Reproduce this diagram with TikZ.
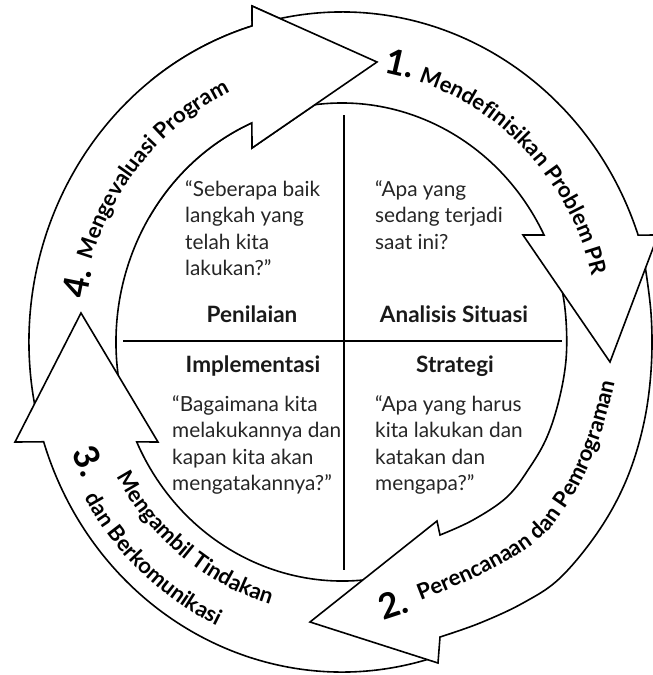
\documentclass[tikz,border=0pt]{standalone}
\usepackage{fontspec}
\setmainfont{Lato}
\usetikzlibrary{calc,decorations.text}
\newcommand{\bodyfont}{\fontsize{20.8}{26.5}\selectfont}
\newcommand{\headfont}{\fontsize{22.5}{26}\selectfont\bfseries}
\newcommand{\labfont}{\fontsize{22}{24}\selectfont\bfseries}
\newcommand{\numfont}{\fontsize{35}{37}\selectfont\bfseries}
\begin{document}
\begin{tikzpicture}[x=1pt,y=-1pt,
  arrowbox/.style={draw=black, fill=white, line width=1.6pt, line join=miter, miter limit=10},
  crossline/.style={draw=black, line width=1.4pt},
  bodytext/.style={inner sep=0pt, align=left, text=black!85, font=\bodyfont},
  headtext/.style={inner sep=0pt, text=black!90, font=\headfont},
  numtext/.style={inner sep=0pt, text=black, font=\numfont},
  arrowfour/.style={insert path={
    ($(C)+(165:313 and 330)$) arc[start angle=165, end angle=253.3, x radius=313, y radius=330]
    -- (252,6) -- (377,62) -- (252,148)
    -- ($(C)+(246.5:226 and 239)$) arc[start angle=246.5, end angle=160, x radius=226, y radius=239] -- cycle}},
  arrowone/.style={insert path={
    ($(C)+(256:313 and 330)$) arc[start angle=256, end angle=341.1, x radius=313, y radius=330]
    -- (658,235) -- (610,362) -- (523,235)
    -- ($(C)+(333.4:226 and 239)$) arc[start angle=333.4, end angle=249.5, x radius=226, y radius=239] -- cycle}},
  arrowtwo/.style={insert path={
    plot[smooth, tension=0.6] coordinates {(642.7,250.5) (651,313) (651,371) (643,427) (625.7,481.5) (598.4,531.3) (560,578) (523,603) (480,623) (440,637)}
    -- (438,663) -- (310,622) -- (437,521)
    -- plot[smooth, tension=0.6] coordinates {(440,535) (473,520) (507,497) (530,467) (547,437) (559,400) (566,360) (566,320) (561,285) (550.5,249.8)} -- cycle}},
  arrowthree/.style={insert path={
    ($(C)+(72.5:313 and 330)$) arc[start angle=72.5, end angle=162.4, x radius=313, y radius=330]
    -- (15,442) -- (81,313) -- (158,442)
    -- ($(C)+(155.3:226 and 239)$) arc[start angle=155.3, end angle=65.4, x radius=226, y radius=239] -- cycle}}
]
\useasboundingbox (0,0) rectangle (653,675);
\fill[white] (0,0) rectangle (653,675);
\coordinate (C) at (342,342);

% arrows (each tail lies under the previous arrow's head)
\path[arrowbox, arrowfour];
\path[arrowbox, arrowthree];
\path[arrowbox, arrowtwo];
\path[arrowbox, arrowone];
\begin{scope}
  \clip (150,-5) rectangle (400,250);
  \path[arrowbox, arrowfour];
\end{scope}

% cross
\coordinate (vt) at (344,115);
\coordinate (vb) at (344,570);
\coordinate (hl) at (123,341);
\coordinate (hr) at (562,341);
\draw[crossline] (vt) -- (vb);
\draw[crossline] (hl) -- (hr);

% quadrant texts
\node[bodytext, anchor=north west] (q1) at (185,180) {“Seberapa baik\\langkah yang\\telah kita\\lakukan?”};
\node[bodytext, anchor=north west] (q2) at (375,180) {“Apa yang\\sedang terjadi\\saat ini?};
\node[bodytext, anchor=north west] (q3) at (172,395) {“Bagaimana kita\\melakukannya dan\\kapan kita akan\\mengatakannya?”};
\node[bodytext, anchor=north west] (q4) at (375,395) {“Apa yang harus\\kita lakukan dan\\katakan dan\\mengapa?”};

\node[headtext, anchor=base] (h1) at (252,322) {Penilaian};
\node[headtext, anchor=base] (h2) at (454,322) {Analisis Situasi};
\node[headtext, anchor=base] (h3) at (253,372) {Implementasi};
\node[headtext, anchor=base] (h4) at (455,372) {Strategi};

% numbers
\node[numtext, rotate=-13] (n1) at (400,63) {1.};
\node[numtext, rotate=18] (n2) at (393,604) {2.};
\node[numtext, rotate=-67] (n3) at (89,461) {3.};
\node[numtext, rotate=78.7] (n4) at (77,283) {4.};

% curved labels
\path[decorate, decoration={text along path, text={|\labfont|Mendefinisikan Problem PR}, text align=center}]
  ($(C)+(274:258 and 272.2)$) arc[start angle=274, end angle=358.5, x radius=258, y radius=272.2];
\path[decorate, decoration={text along path, text={|\labfont|Mengevaluasi Program}, text align=center}]
  ($(C)+(184:262 and 276.4)$) arc[start angle=184, end angle=258.5, x radius=262, y radius=276.4];
\path[decorate, decoration={text along path, text={|\labfont|Mengambil Tindakan}, text align=center}]
  ($(C)+(164:259 and 273.2)$) arc[start angle=164, end angle=92, x radius=259, y radius=273.2];
\path[decorate, decoration={text along path, text={|\labfont|dan Berkomunikasi}, text align=center}]
  ($(C)+(164:297 and 313)$) arc[start angle=164, end angle=100.5, x radius=297, y radius=313];
\path[decorate, decoration={text along path, text={|\labfont|Perencanaan dan Pemrograman}, text align=center}]
  plot[smooth, tension=0.7] coordinates {(382,613) (411,604) (442,592) (488,571) (536,542) (563,511) (583,478) (599,440) (611,401) (617,372) (620,342)};
\end{tikzpicture}
\end{document}
